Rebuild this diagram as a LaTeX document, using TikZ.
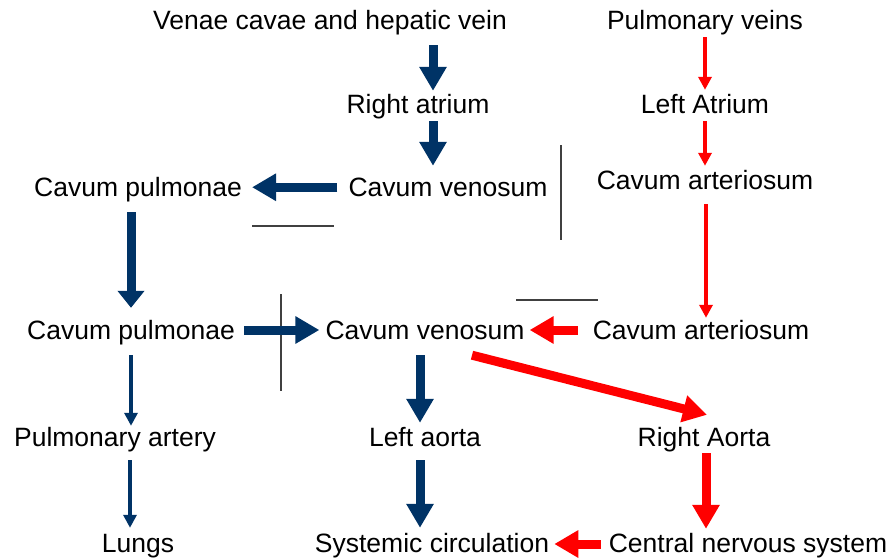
\documentclass[tikz,border=0pt]{standalone}
\usepackage{fontspec}
\setmainfont{Liberation Sans}
\usetikzlibrary{arrows.meta}
\definecolor{navy}{RGB}{0,51,102}
\definecolor{brightred}{RGB}{255,0,0}
\tikzset{
  lbl/.style={inner sep=0pt, anchor=base, text height=19pt, text depth=5.5pt,
    font=\fontsize{26.5}{30}\selectfont},
  bigB/.style={draw=navy, line width=9pt, -{Triangle[width=26pt,length=24pt]}, navy},
  midB/.style={draw=navy, line width=9pt, -{Triangle[width=26pt,length=17pt]}, navy},
  thinB/.style={draw=navy, line width=4.5pt, -{Triangle[width=13pt,length=13pt]}, navy},
  bigR/.style={draw=brightred, line width=9pt, -{Triangle[width=26pt,length=24pt]}, brightred},
  thinR/.style={draw=brightred, line width=4.5pt, -{Triangle[width=13pt,length=13pt]}, brightred},
  sep/.style={draw=black!75, line width=1.1pt}
}
\begin{document}
\begin{tikzpicture}[x=1pt,y=-1pt]
\useasboundingbox (0,0) rectangle (890,557);
% nodes (base anchors)
\node[lbl] (ven) at (330,29.5) {Venae cavae and hepatic vein};
\node[lbl] (pv)  at (705,29.5) {Pulmonary veins};
\node[lbl] (ra)  at (418,113.5) {Right atrium};
\node[lbl] (la)  at (705,113.5) {Left Atrium};
\node[lbl] (cp1) at (138,196.5) {Cavum pulmonae};
\node[lbl] (cv1) at (448,196.5) {Cavum venosum};
\node[lbl] (ca1) at (705,189.5) {Cavum arteriosum};
\node[lbl] (cp2) at (131,339.5) {Cavum pulmonae};
\node[lbl] (cv2) at (425,339.5) {Cavum venosum};
\node[lbl] (ca2) at (701,339.5) {Cavum arteriosum};
\node[lbl] (pa)  at (115,446.5) {Pulmonary artery};
\node[lbl] (lao) at (425,446.5) {Left aorta};
\node[lbl] (rao) at (704,446.5) {Right Aorta};
\node[lbl] (lun) at (138,552.5) {Lungs};
\node[lbl] (sys) at (432,552.5) {Systemic circulation};
\node[lbl] (cns) at (748,552.5) {Central nervous system};
% separator lines
\draw[sep] (252,226) -- (334,226);
\draw[sep] (561,145) -- (561,240);
\draw[sep] (516,300) -- (598,300);
\draw[sep] (281,294) -- (281,391);
% connectors
\draw[bigB, shorten <=10pt, shorten >=3.5pt] ([xshift=15pt]ra.north |- ven.south) -- ([xshift=15pt]ra.north);
\draw[bigB, shorten <=2pt, shorten >=11.5pt] ([xshift=15pt]ra.south) -- ([xshift=15pt]ra.south |- cv1.north);
\draw[thinR, shorten <=2pt, shorten >=4.5pt] (pv.south) -- (la.north);
\draw[thinR, shorten <=2pt, shorten >=4.5pt] (la.south) -- (ca1.north);
\draw[bigB, shorten <=11pt, shorten >=10pt] ([yshift=2.5pt]cv1.west) -- ([yshift=2.5pt]cv1.west -| cp1.east);
\draw[midB, shorten <=10pt, shorten >=12.5pt] (cp2.north |- cp1.south) -- (cp2.north);
\draw[thinR, shorten <=9pt, shorten >=2.5pt] ([xshift=1pt]ca1.south) -- ([xshift=1pt]ca1.south |- ca2.north);
\draw[bigB, shorten <=9pt, shorten >=6pt] ([yshift=2.75pt]cp2.east) -- ([yshift=2.75pt]cp2.east -| cv2.west);
\draw[bigR, shorten <=15pt, shorten >=5pt] ([yshift=2.75pt]ca2.west) -- ([yshift=2.75pt]ca2.west -| cv2.east);
\draw[thinB, shorten <=10pt, shorten >=1.5pt] (cp2.south) -- (cp2.south |- pa.north);
\draw[bigB, shorten <=10pt, shorten >=4.5pt] ([xshift=-5pt]cv2.south) -- ([xshift=-5pt]cv2.south |- lao.north);
\draw[bigR] ([xshift=47pt,yshift=-10pt]cv2.south) -- ([xshift=3pt,yshift=12.5pt]rao.north);
\draw[thinB, shorten <=8pt, shorten >=5.5pt] ([xshift=-1pt]cp2.south |- pa.south) -- ([xshift=-1pt]cp2.south |- lun.north);
\draw[bigB, shorten <=8pt, shorten >=5.5pt] ([xshift=-5pt]lao.south) -- ([xshift=-5pt]lao.south |- sys.north);
\draw[bigR, shorten <=1pt, shorten >=4.5pt] ([xshift=2pt]rao.south) -- ([xshift=2pt]rao.south |- cns.north);
\draw[bigR, shorten <=8pt, shorten >=5pt] ([yshift=1.75pt]cns.west) -- ([yshift=1.75pt]cns.west -| sys.east);
\end{tikzpicture}
\end{document}
